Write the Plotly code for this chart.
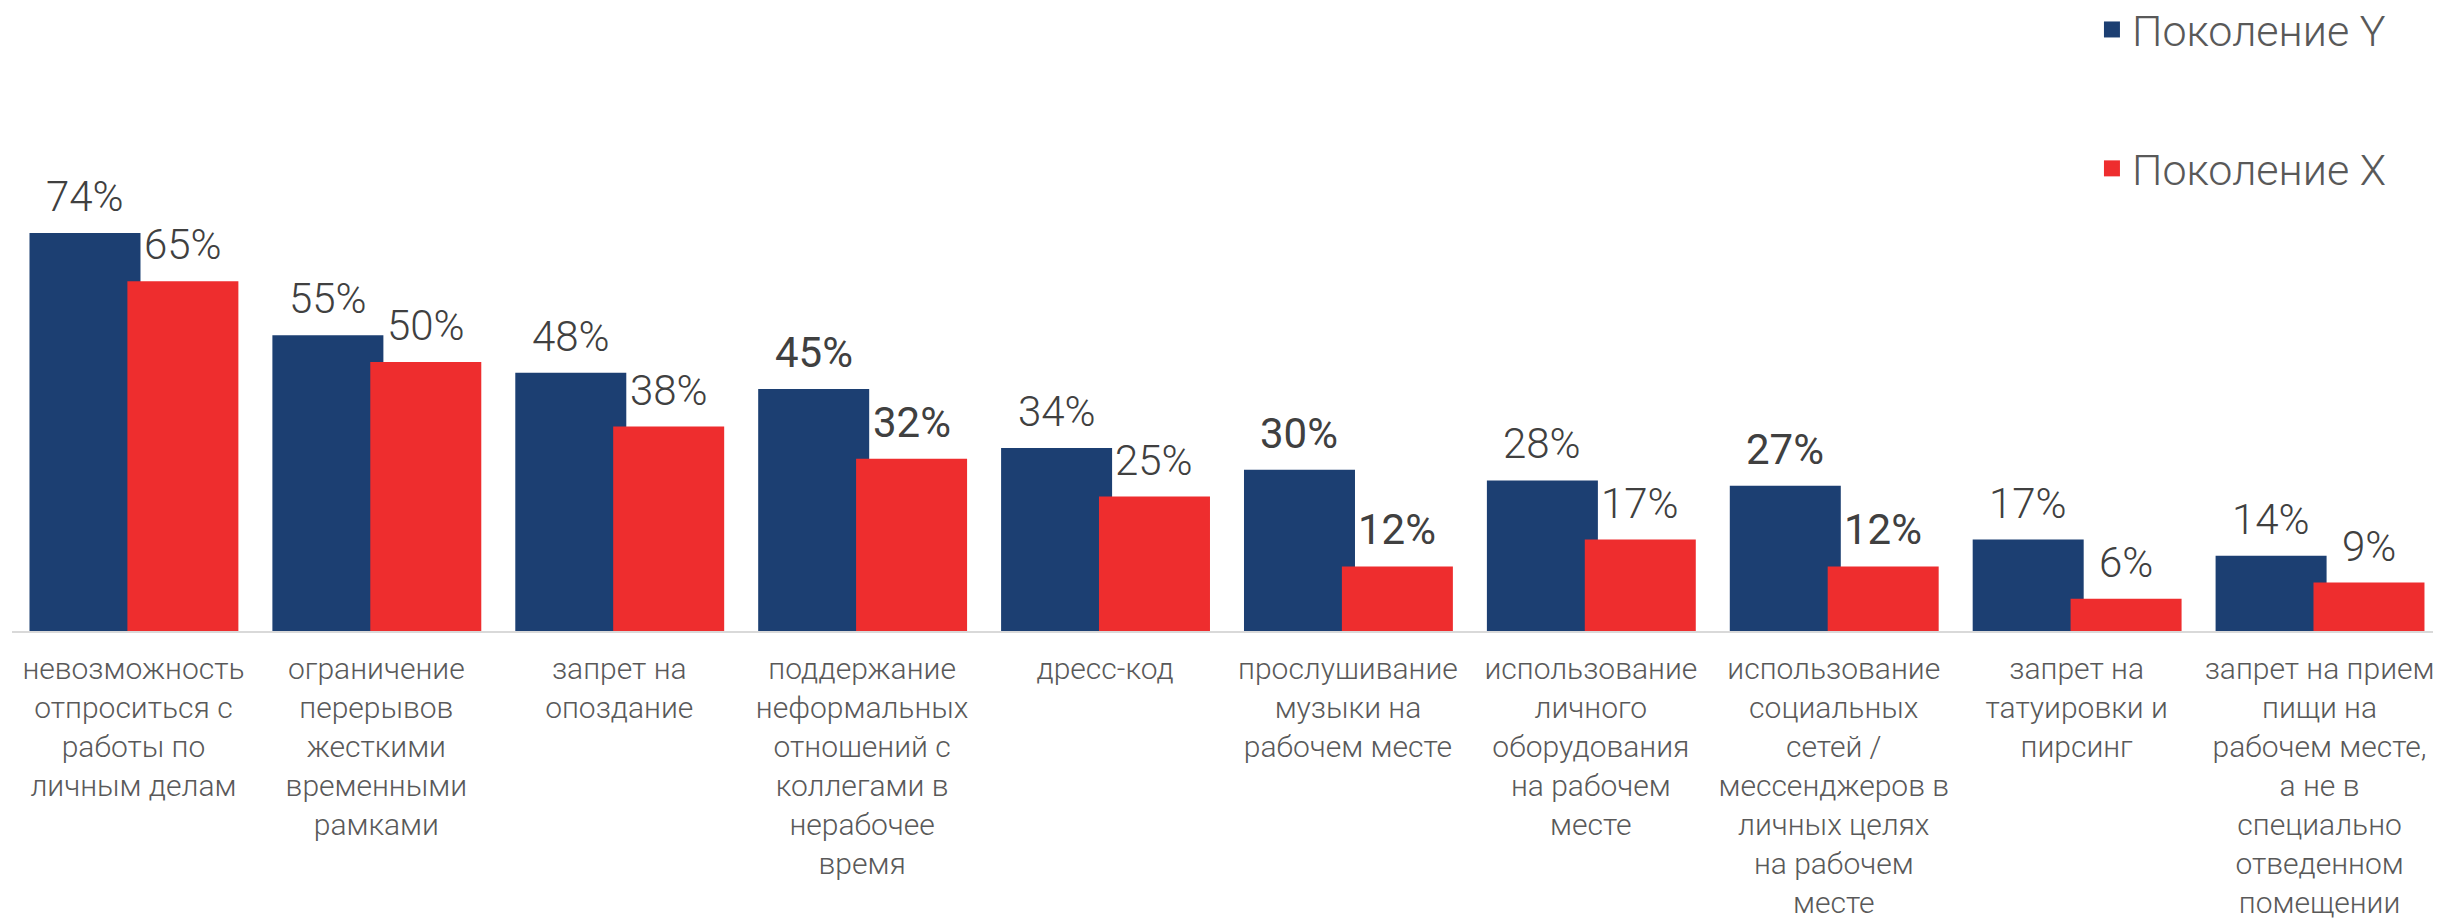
import plotly.graph_objects as go

categories = [
    "невозможность<br>отпроситься с<br>работы по<br>личным делам",
    "ограничение<br>перерывов<br>жесткими<br>временными<br>рамками",
    "запрет на<br>опоздание",
    "поддержание<br>неформальных<br>отношений с<br>коллегами в<br>нерабочее<br>время",
    "дресс-код",
    "прослушивание<br>музыки на<br>рабочем месте",
    "использование<br>личного<br>оборудования<br>на рабочем<br>месте",
    "использование<br>социальных<br>сетей /<br>мессенджеров в<br>личных целях<br>на рабочем<br>месте",
    "запрет на<br>татуировки и<br>пирсинг",
    "запрет на прием<br>пищи на<br>рабочем месте,<br>а не в<br>специально<br>отведенном<br>помещении",
]
gen_y = [74, 55, 48, 45, 34, 30, 28, 27, 17, 14]
gen_x = [65, 50, 38, 32, 25, 12, 17, 12, 6, 9]
series_names = ["Поколение Y", "Поколение X"]

# style
BLUE = "#1C3F72"
RED = "#EE2D2E"
FONT = "Roboto"
LABEL_COLOR = "#404040"
TICK_COLOR = "#595959"
EMPH = {3, 5, 7}          # categories whose value labels are drawn heavier
BAR_W = 0.457
OFFS = [-0.428, -0.025]

idx = list(range(len(categories)))
fig = go.Figure()

for vals, name, col, off in [(gen_y, series_names[0], BLUE, OFFS[0]),
                             (gen_x, series_names[1], RED, OFFS[1])]:
    fig.add_trace(go.Bar(
        x=idx, y=vals, name=name, marker=dict(color=col, line=dict(width=0)),
        width=BAR_W, offset=off, showlegend=False, legendgroup=name,
        hoverinfo="skip",
    ))
    # legend proxy
    fig.add_trace(go.Scatter(
        x=[None], y=[None], mode="markers", name=name, legendgroup=name,
        marker=dict(symbol="square", size=16, color=col),
    ))
    for i, v in zip(idx, vals):
        fig.add_annotation(
            x=i + off + BAR_W / 2, y=v, xref="x", yref="y",
            text=f"{v}%", showarrow=False, yanchor="bottom", xanchor="center",
            yshift=10,
            font=dict(family=FONT, size=42, color=LABEL_COLOR,
                      weight=400 if i in EMPH else 300),
        )

fig.update_layout(
    width=2433, height=910,
    margin=dict(l=4, r=0, t=20, b=287, autoexpand=False),
    paper_bgcolor="white", plot_bgcolor="white",
    barmode="overlay",
    showlegend=True,
    legend=dict(
        x=0.8563, xanchor="left", y=1.0547, yanchor="top",
        font=dict(family=FONT, size=43, color=TICK_COLOR, weight=300),
        tracegroupgap=80, bgcolor="rgba(0,0,0,0)",
        itemsizing="trace",
    ),
    xaxis=dict(
        range=[-0.5, 9.5], tickmode="array", tickvals=idx, ticktext=categories,
        showline=True, linecolor="#D9D9D9", linewidth=2,
        showgrid=False, zeroline=False,
        ticks="outside", ticklen=10, tickcolor="rgba(0,0,0,0)",
        tickfont=dict(family=FONT, size=30, color=TICK_COLOR, weight=300),
        tickangle=0, automargin=False, fixedrange=True,
    ),
    yaxis=dict(
        range=[0, 112.1], showgrid=False, zeroline=False, showticklabels=False,
        showline=False, automargin=False, fixedrange=True,
    ),
)

fig.write_html("out.html")
